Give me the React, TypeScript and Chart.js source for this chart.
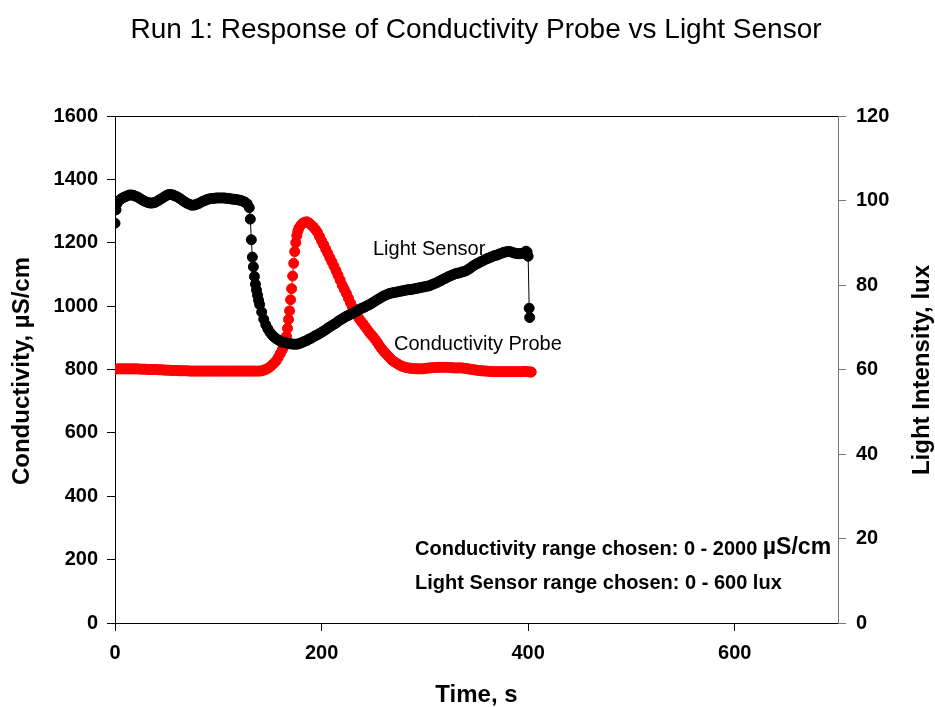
import React, { useEffect, useRef } from 'react';
import { Chart, registerables } from 'chart.js';

Chart.register(...registerables);

// Light sensor (lux, right axis)
const lightTime = [
  0, 1, 2, 4, 6, 8, 10, 12, 14, 16, 18, 20, 22, 24, 26, 28, 30, 32, 34, 36, 38, 40, 42, 44, 46, 48, 50, 52, 54, 56, 58,
  60, 62, 64, 66, 68, 70, 72, 74, 76, 78, 80, 82, 84, 86, 88, 90, 92, 94, 96, 98, 100, 102, 104, 106, 108, 110, 112, 114,
  116, 118, 120, 122, 124, 126, 128, 130, 131, 132, 133, 134, 135, 136, 137, 138, 139, 140, 142, 144, 146, 148, 150, 152,
  154, 156, 158, 160, 162, 164, 166, 168, 170, 172, 174, 176, 178, 180, 182, 184, 186, 188, 190, 192, 194, 196, 198, 200,
  202, 204, 206, 208, 210, 212, 214, 216, 218, 220, 222, 224, 226, 228, 230, 232, 234, 236, 238, 240, 242, 244, 246, 248,
  250, 252, 254, 256, 258, 260, 262, 264, 266, 268, 270, 272, 274, 276, 278, 280, 282, 284, 286, 288, 290, 292, 294, 296,
  298, 300, 302, 304, 306, 308, 310, 312, 314, 316, 318, 320, 322, 324, 326, 328, 330, 332, 334, 336, 338, 340, 342, 344,
  346, 348, 350, 352, 354, 356, 358, 360, 362, 364, 366, 368, 370, 372, 374, 376, 378, 380, 382, 384, 386, 388, 390, 392,
  394, 396, 398, 399, 400, 401, 401.5,
];
const lightLux = [
  94.6, 97.8, 99.3, 100.0, 100.4, 100.7, 100.9, 101.1, 101.3, 101.3, 101.2, 101.0, 100.8, 100.5, 100.2, 99.9, 99.7, 99.5,
  99.4, 99.4, 99.5, 99.7, 100.0, 100.3, 100.6, 100.9, 101.2, 101.4, 101.4, 101.3, 101.1, 100.9, 100.6, 100.3, 99.9, 99.6,
  99.3, 99.1, 98.9, 98.9, 99.0, 99.2, 99.4, 99.7, 99.9, 100.1, 100.3, 100.4, 100.5, 100.5, 100.6, 100.6, 100.6, 100.6,
  100.6, 100.5, 100.5, 100.4, 100.3, 100.3, 100.2, 100.1, 100.0, 99.8, 99.6, 99.2, 98.3, 95.6, 90.7, 86.6, 84.3, 82.0,
  80.2, 78.8, 77.6, 76.4, 75.4, 73.6, 71.9, 70.6, 69.6, 68.8, 68.2, 67.7, 67.3, 67.0, 66.7, 66.5, 66.4, 66.3, 66.2, 66.1,
  66.0, 66.0, 66.0, 66.1, 66.3, 66.5, 66.7, 66.9, 67.2, 67.4, 67.7, 68.0, 68.2, 68.5, 68.8, 69.1, 69.4, 69.8, 70.1, 70.4,
  70.7, 71.0, 71.4, 71.7, 72.0, 72.3, 72.6, 72.8, 73.1, 73.3, 73.6, 73.8, 74.1, 74.4, 74.6, 74.8, 75.1, 75.3, 75.6, 75.9,
  76.2, 76.5, 76.8, 77.1, 77.4, 77.6, 77.8, 78.0, 78.1, 78.2, 78.3, 78.4, 78.5, 78.6, 78.7, 78.8, 78.9, 78.9, 79.0, 79.1,
  79.2, 79.3, 79.4, 79.5, 79.6, 79.7, 79.8, 80.0, 80.2, 80.4, 80.6, 80.9, 81.1, 81.4, 81.6, 81.9, 82.1, 82.3, 82.5, 82.7,
  82.8, 82.9, 83.1, 83.2, 83.4, 83.7, 84.0, 84.4, 84.7, 85.0, 85.2, 85.5, 85.7, 86.0, 86.2, 86.4, 86.6, 86.8, 87.0, 87.1,
  87.3, 87.5, 87.7, 87.8, 87.9, 87.9, 87.8, 87.6, 87.5, 87.4, 87.4, 87.5, 87.6, 88.0, 87.8, 86.8, 74.5, 72.3,
];

// Conductivity probe (µS/cm, left axis)
const condTime = [
  0, 2, 4, 6, 8, 10, 12, 14, 16, 18, 20, 22, 24, 26, 28, 30, 32, 34, 36, 38, 40, 42, 44, 46, 48, 50, 52, 54, 56, 58, 60,
  62, 64, 66, 68, 70, 72, 74, 76, 78, 80, 82, 84, 86, 88, 90, 92, 94, 96, 98, 100, 102, 104, 106, 108, 110, 112, 114, 116,
  118, 120, 122, 124, 126, 128, 130, 132, 134, 136, 138, 140, 142, 144, 146, 148, 150, 152, 154, 156, 158, 160, 162, 163,
  164, 165, 166, 167, 168, 169, 170, 171, 172, 173, 174, 175, 176, 177, 178, 180, 182, 184, 186, 188, 190, 192, 194, 196,
  198, 200, 202, 204, 206, 208, 210, 212, 214, 216, 218, 220, 222, 224, 226, 228, 230, 232, 234, 236, 238, 240, 242, 244,
  246, 248, 250, 252, 254, 256, 258, 260, 262, 264, 266, 268, 270, 272, 274, 276, 278, 280, 282, 284, 286, 288, 290, 292,
  294, 296, 298, 300, 302, 304, 306, 308, 310, 312, 314, 316, 318, 320, 322, 324, 326, 328, 330, 332, 334, 336, 338, 340,
  342, 344, 346, 348, 350, 352, 354, 356, 358, 360, 362, 364, 366, 368, 370, 372, 374, 376, 378, 380, 382, 384, 386, 388,
  390, 392, 394, 396, 398, 400, 402, 403,
];
const condValues = [
  801, 802, 802, 802, 802, 802, 802, 802, 802, 802, 802, 802, 801, 801, 801, 801, 800, 800, 800, 800, 800, 799, 799, 799,
  798, 798, 798, 797, 797, 797, 797, 796, 796, 796, 796, 796, 795, 795, 795, 795, 795, 795, 795, 795, 795, 795, 795, 795,
  795, 795, 795, 795, 795, 795, 795, 795, 795, 795, 795, 795, 795, 795, 795, 795, 795, 795, 795, 795, 795, 795, 795, 796,
  798, 800, 804, 808, 814, 820, 827, 838, 850, 862, 870, 880, 893, 905, 930, 958, 985, 1020, 1055, 1095, 1135, 1172, 1200,
  1222, 1236, 1246, 1256, 1262, 1265, 1266, 1262, 1256, 1250, 1242, 1233, 1220, 1206, 1194, 1180, 1167, 1153, 1140, 1126,
  1112, 1097, 1082, 1066, 1053, 1040, 1025, 1010, 997, 985, 973, 962, 953, 945, 936, 927, 918, 910, 903, 894, 885, 875,
  866, 858, 851, 844, 837, 830, 825, 821, 817, 813, 810, 808, 806, 805, 804, 803, 803, 802, 802, 802, 802, 803, 804, 805,
  805, 806, 806, 807, 807, 807, 807, 807, 807, 806, 806, 805, 805, 805, 805, 805, 804, 803, 802, 801, 800, 799, 798, 797,
  796, 796, 795, 795, 794, 794, 793, 793, 793, 793, 793, 793, 793, 793, 793, 793, 793, 793, 793, 793, 793, 794, 794, 793,
  792, 792, 792,
];

const xTicks = [0, 200, 400, 600];
const leftTicks = [0, 200, 400, 600, 800, 1000, 1200, 1400, 1600];
const rightTicks = [0, 20, 40, 60, 80, 100, 120];

const titleText = 'Run 1: Response of Conductivity Probe vs Light Sensor';
const xTitle = 'Time, s';
const leftTitle = 'Conductivity, µS/cm';
const rightTitle = 'Light Intensity, lux';
const lightLabel = 'Light Sensor';
const condLabel = 'Conductivity Probe';
const noteLine1 = 'Conductivity range chosen: 0 - 2000 ';
const noteLine1Unit = 'µS/cm';
const noteLine2 = 'Light Sensor range chosen: 0 - 600 lux';

const FONT = '"Liberation Sans", Arial, Helvetica, sans-serif';

const textPlugin = {
  id: 'customTexts',
  afterDraw(chart: any) {
    const ctx = chart.ctx as CanvasRenderingContext2D;
    const { left, right, top } = chart.chartArea;
    ctx.save();
    // top frame line
    ctx.strokeStyle = '#000';
    ctx.lineWidth = 1;
    ctx.beginPath();
    ctx.moveTo(left, top + 0.5);
    ctx.lineTo(right, top + 0.5);
    ctx.stroke();

    ctx.fillStyle = '#000';
    // title
    ctx.font = `28px ${FONT}`;
    ctx.textAlign = 'center';
    ctx.textBaseline = 'middle';
    ctx.fillText(titleText, 476, 30);

    // axis titles
    ctx.font = `bold 24px ${FONT}`;
    ctx.fillText(xTitle, (left + right) / 2, 695);
    ctx.save();
    ctx.translate(22, 371);
    ctx.rotate(-Math.PI / 2);
    ctx.fillText(leftTitle, 0, 0);
    ctx.restore();
    ctx.save();
    ctx.translate(922, 370);
    ctx.rotate(-Math.PI / 2);
    ctx.fillText(rightTitle, 0, 0);
    ctx.restore();

    // series labels
    ctx.textAlign = 'left';
    ctx.font = `20px ${FONT}`;
    ctx.fillText(lightLabel, 373, 249);
    ctx.fillText(condLabel, 394, 344);

    // notes
    ctx.font = `bold 20px ${FONT}`;
    ctx.fillText(noteLine1, 415, 549);
    const w = ctx.measureText(noteLine1).width;
    ctx.font = `bold 23px ${FONT}`;
    ctx.fillText(noteLine1Unit, 415 + w, 548);
    ctx.font = `bold 20px ${FONT}`;
    ctx.fillText(noteLine2, 415, 583);
    ctx.restore();
  },
};

export default function App() {
  const ref = useRef<HTMLCanvasElement | null>(null);
  useEffect(() => {
    if (!ref.current) return;
    const tickFont = { family: FONT, size: 20, weight: 'bold' as const };
    const plain = (v: any) => String(v);
    const chart = new Chart(ref.current, {
      type: 'line',
      data: {
        datasets: [
          {
            label: lightLabel,
            data: lightTime.map((t, i) => ({ x: t, y: lightLux[i] })),
            yAxisID: 'y1',
            borderColor: '#000',
            backgroundColor: '#000',
            pointBackgroundColor: '#000',
            pointBorderColor: '#000',
            pointRadius: 5,
            pointBorderWidth: 1,
            borderWidth: 1,
            tension: 0,
            order: 0,
          },
          {
            label: condLabel,
            data: condTime.map((t, i) => ({ x: t, y: condValues[i] })),
            yAxisID: 'y',
            borderColor: '#ff0000',
            backgroundColor: '#ff0000',
            pointBackgroundColor: '#ff0000',
            pointBorderColor: '#ff0000',
            pointRadius: 5,
            pointBorderWidth: 1,
            borderWidth: 1,
            tension: 0,
            order: 1,
          },
        ],
      },
      options: {
        responsive: false,
        animation: false,
        events: [],
        layout: { padding: { top: 116, left: 0, right: 0, bottom: 0 } },
        plugins: {
          legend: { display: false },
          tooltip: { enabled: false },
          title: { display: false },
        },
        scales: {
          x: {
            type: 'linear',
            min: 0,
            max: 700,
            afterBuildTicks: (s: any) => { s.ticks = xTicks.map((v) => ({ value: v })); },
            afterFit: (s: any) => { s.height = 84; },
            grid: { drawOnChartArea: false, drawTicks: true, tickLength: 8, color: '#000' },
            border: { display: true, color: '#000', width: 1 },
            ticks: { font: tickFont, color: '#000', padding: 10, maxRotation: 0, callback: plain },
          },
          y: {
            type: 'linear',
            position: 'left',
            min: 0,
            max: 1600,
            afterBuildTicks: (s: any) => { s.ticks = leftTicks.map((v) => ({ value: v })); },
            afterFit: (s: any) => { s.width = 115; },
            grid: { drawOnChartArea: false, drawTicks: true, tickLength: 8, color: '#000' },
            border: { display: true, color: '#000', width: 1 },
            ticks: { font: tickFont, color: '#000', padding: 9, callback: plain },
          },
          y1: {
            type: 'linear',
            position: 'right',
            min: 0,
            max: 120,
            afterBuildTicks: (s: any) => { s.ticks = rightTicks.map((v) => ({ value: v })); },
            afterFit: (s: any) => { s.width = 97; },
            grid: { drawOnChartArea: false, drawTicks: true, tickLength: 8, color: '#777' },
            border: { display: true, color: '#777', width: 1 },
            ticks: { font: tickFont, color: '#000', padding: 10, callback: plain },
          },
        },
      },
      plugins: [textPlugin],
    });
    return () => chart.destroy();
  }, []);
  return (
    <div style={{ position: 'fixed', left: 0, top: 0, width: 935, height: 707, background: '#fff' }}>
      <canvas ref={ref} width={935} height={707} />
    </div>
  );
}
